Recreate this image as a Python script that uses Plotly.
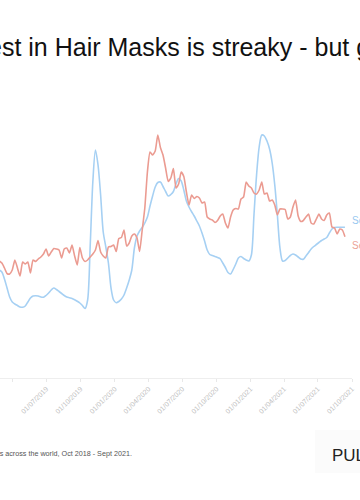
import pandas as pd
import plotly.graph_objects as go

# Weekly dates (visible part of the series)
dates = pd.date_range(start="2019-02-24", periods=134, freq="7D")

# Social interest index (blue)
social = [
    43.2, 42.4, 39.6, 36.0, 32.4, 30.4, 29.6, 29.0, 28.4, 28.3,
    28.8, 30.4, 32.0, 32.8, 32.9, 32.8, 32.4, 32.3, 33.0, 34.0,
    35.2, 36.0, 35.4, 34.6, 33.8, 33.0, 32.4, 32.1, 31.8, 31.3,
    30.7, 30.0, 29.0, 27.8, 31.2, 53.2, 78.4, 91.2, 85.2, 73.2,
    58.4, 52.4, 46.0, 36.0, 31.2, 30.1, 30.6, 31.6, 33.2, 36.0,
    39.2, 43.2, 52.0, 56.8, 58.8, 60.2, 62.0, 64.4, 68.8, 72.8,
    76.4, 78.2, 78.4, 76.6, 74.6, 72.8, 73.4, 74.6, 77.6, 79.8,
    78.8, 75.2, 70.8, 68.4, 66.5, 64.8, 62.8, 60.8, 58.0, 54.8,
    51.2, 49.4, 49.0, 48.6, 48.2, 47.7, 46.0, 44.2, 42.2, 41.6,
    43.4, 45.6, 48.0, 48.6, 47.8, 47.2, 46.8, 49.2, 65.2, 81.2,
    92.4, 97.2, 96.8, 94.8, 91.6, 86.0, 77.2, 65.2, 52.0, 46.8,
    47.0, 48.0, 49.0, 49.6, 49.2, 48.4, 47.6, 47.5, 48.8, 50.2,
    51.6, 52.6, 53.4, 54.2, 55.0, 55.6, 56.2, 58.0, 59.6, 60.2,
    60.3, 60.3, 60.3, 60.3,
]

# Search interest index (red)
search = [
    46.8, 46.0, 44.0, 41.8, 41.6, 43.2, 47.2, 44.0, 40.8, 46.4,
    45.6, 46.4, 42.0, 47.2, 46.6, 47.6, 48.4, 49.6, 51.6, 48.8,
    50.4, 51.8, 51.6, 51.2, 48.0, 51.6, 52.0, 50.0, 53.2, 48.8,
    45.2, 52.2, 48.0, 46.6, 47.2, 48.4, 49.6, 51.2, 55.0, 50.4,
    48.8, 48.0, 52.4, 52.6, 53.2, 50.6, 55.8, 56.2, 59.2, 52.8,
    54.0, 56.8, 57.6, 56.0, 50.6, 59.2, 68.0, 82.4, 90.4, 89.2,
    90.8, 97.2, 92.2, 89.2, 84.0, 78.6, 80.0, 83.8, 76.0, 77.6,
    82.4, 80.6, 74.4, 69.2, 73.2, 71.8, 72.6, 72.0, 70.0, 70.4,
    64.4, 63.6, 63.2, 62.2, 63.0, 64.8, 65.6, 62.0, 60.0, 64.4,
    67.2, 67.8, 67.6, 71.6, 72.4, 78.4, 76.8, 76.0, 74.0, 73.6,
    75.2, 78.4, 73.6, 74.0, 70.8, 71.2, 69.2, 65.2, 67.6, 67.6,
    67.4, 63.6, 64.4, 68.4, 71.2, 64.8, 62.6, 63.0, 64.4, 65.6,
    62.0, 61.6, 63.6, 65.6, 63.6, 63.0, 65.2, 66.0, 60.4, 60.0,
    57.6, 59.6, 59.2, 56.5,
]

BLUE = "#a6d0f3"
RED = "#eb9b91"

fig = go.Figure()
fig.add_trace(go.Scatter(x=dates, y=social, mode="lines", name="Social",
                         line=dict(color=BLUE, width=1.6, shape="spline", smoothing=0.8),
                         hoverinfo="skip"))
fig.add_trace(go.Scatter(x=dates, y=search, mode="lines", name="Search",
                         line=dict(color=RED, width=1.6, shape="spline", smoothing=0.5),
                         hoverinfo="skip"))

fig.update_layout(
    width=360, height=500,
    margin=dict(l=0, r=8, t=128, b=122),
    paper_bgcolor="white", plot_bgcolor="white",
    showlegend=False,
    font=dict(family="Liberation Sans, Arial, sans-serif"),
    xaxis=dict(
        range=["2019-02-26", "2021-10-01"],
        tick0="2019-01-01", dtick="M3", tickformat="%d/%m/%Y",
        tickangle=-45, tickfont=dict(size=7, color="#c0c0c0"),
        ticks="outside", ticklen=3, tickcolor="#e8e8e8",
        showline=True, linecolor="#eeeeee", linewidth=1,
        showgrid=False, zeroline=False,
    ),
    yaxis=dict(range=[0, 100], visible=False, showgrid=False),
)

annotations = [
    dict(text="Interest in Hair Masks is streaky - but growing",
         xref="paper", yref="paper", x=-64 / 352, y=(378 - 47) / 250,
         xanchor="left", yanchor="middle", showarrow=False,
         font=dict(size=25, color="#111111")),
    dict(text="Search and social interest in Hair Masks across the world, Oct 2018 - Sept 2021.",
         xref="paper", yref="paper", x=134 / 352, y=(378 - 453) / 250,
         xanchor="right", yanchor="middle", showarrow=False,
         font=dict(size=7.2, color="#555555")),
    dict(text="PULSAR", xref="paper", yref="paper", x=330 / 352, y=(378 - 455.5) / 250,
         xanchor="left", yanchor="middle", showarrow=False,
         font=dict(size=17, color="#222222")),
    dict(text="Social", xref="paper", yref="y", x=350 / 352, y=63.2,
         xanchor="left", yanchor="middle", showarrow=False,
         font=dict(size=10, color="#98c8f0")),
    dict(text="Search", xref="paper", yref="y", x=350 / 352, y=53.2,
         xanchor="left", yanchor="middle", showarrow=False,
         font=dict(size=10, color="#eca398")),
]
fig.update_layout(annotations=annotations)

fig.add_shape(type="rect", xref="paper", yref="paper",
              x0=315 / 352, x1=1.1, y0=(378 - 473) / 250, y1=(378 - 430) / 250,
              fillcolor="#fbfbfb", line=dict(width=0), layer="below")

fig.write_html("out.html", config={"displayModeBar": False},
               post_script="document.body.style.margin='0px';document.body.style.overflow='hidden';")
